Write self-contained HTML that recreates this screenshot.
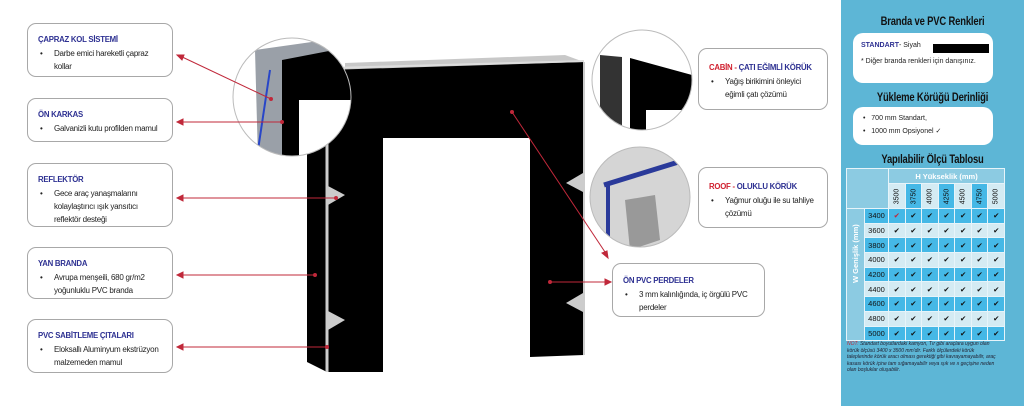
<!DOCTYPE html>
<html><head><meta charset="utf-8"><style>
*{margin:0;padding:0;box-sizing:border-box}
body{width:1024px;height:406px;overflow:hidden;background:#fff;position:relative;font-family:"Liberation Sans","DejaVu Sans",sans-serif}
.box{position:absolute;border:1px solid #a8a8a8;border-radius:9px;background:#fff;padding:9px 4px 0 10px;font-size:8px;letter-spacing:-0.25px;color:#222;line-height:13px;white-space:nowrap}
.box b{display:block;color:#2e3192;font-size:7.8px;margin-bottom:1px}
.box b .r{color:#d0202f}
.box .li{padding-left:16px;position:relative}
.box .li:before{content:"•";position:absolute;left:2px}
#panel{position:absolute;left:841px;top:0;width:183px;height:406px;background:#5db6d6}
.pt{position:absolute;left:0;width:183px;text-align:center;font-weight:bold;font-size:11.5px;color:#111;transform:scaleX(0.82);letter-spacing:-0.2px}
.wb{position:absolute;left:12px;width:140px;background:#fff;border-radius:10px;font-size:7px;color:#222}
table{position:absolute;left:5px;top:168px;border-collapse:collapse;font-size:7.5px}
td{border:1px solid #e6f4fa;text-align:center;padding:0;height:14.7px;width:15.2px;color:#111}
</style></head><body>
<svg width="841" height="406" style="position:absolute;left:0;top:0">
<polygon points="345,63 565,55 584,62 345,70" fill="#c8c8c8"/>
<polygon points="307,122 327,112 327,372 307,362" fill="#000"/>
<polygon points="327,70 584,62 584,355 530,357 530,138 383,138 383,372 327,372" fill="#000"/>
<line x1="327" y1="70" x2="327" y2="372" stroke="#ccc" stroke-width="3"/>
<line x1="584" y1="62" x2="584" y2="355" stroke="#ccc" stroke-width="2"/>
<line x1="330" y1="68" x2="584" y2="61" stroke="#ddd" stroke-width="2"/>
<polygon points="328,186 345,195 328,205" fill="#ccc"/>
<polygon points="328,311 345,320 328,330" fill="#ccc"/>
<polygon points="583,173 566,183 583,192" fill="#ccc"/>
<polygon points="583,293 566,303 583,312" fill="#ccc"/>
<clipPath id="c1"><circle cx="292" cy="97" r="59"/></clipPath>
<g clip-path="url(#c1)"><rect x="230" y="35" width="130" height="125" fill="#fff"/>
<polygon points="255,50 340,38 360,45 360,160 258,160" fill="#9aa0a8"/>
<polygon points="282,60 360,45 360,160 282,160" fill="#000"/>
<rect x="299" y="100" width="65" height="60" fill="#fff"/>
<line x1="270" y1="70" x2="258" y2="150" stroke="#2846c8" stroke-width="2"/></g>
<circle cx="292" cy="97" r="59" fill="none" stroke="#bbb"/>
<clipPath id="c2"><circle cx="642" cy="80" r="50"/></clipPath>
<g clip-path="url(#c2)"><rect x="590" y="30" width="105" height="105" fill="#fff"/>
<polygon points="600,55 622,57 622,130 600,130" fill="#333"/>
<polygon points="630,58 692,75 692,110 668,110 668,130 630,130" fill="#000"/>
<rect x="646" y="110" width="22" height="25" fill="#fff"/></g>
<circle cx="642" cy="80" r="50" fill="none" stroke="#bbb"/>
<clipPath id="c3"><circle cx="640" cy="197" r="50"/></clipPath>
<g clip-path="url(#c3)"><rect x="588" y="145" width="105" height="105" fill="#d5d5d5"/>
<polygon points="625,200 655,195 660,240 630,250" fill="#999"/>
<line x1="604" y1="185" x2="685" y2="160" stroke="#2a3a9a" stroke-width="5"/>
<line x1="608" y1="185" x2="608" y2="250" stroke="#2a3a9a" stroke-width="4"/></g>
<circle cx="640" cy="197" r="50" fill="none" stroke="#bbb"/>
<g stroke="#c0283a" stroke-width="1" fill="#c0283a">
<line x1="271" y1="99" x2="178" y2="55"/><circle cx="271" cy="99" r="1.5"/><polygon points="177,55 184,55 182,60"/>
<line x1="282" y1="122" x2="178" y2="122"/><circle cx="282" cy="122" r="1.5"/><polygon points="177,122 183,119 183,125"/>
<line x1="336" y1="198" x2="178" y2="198"/><circle cx="336" cy="198" r="1.5"/><polygon points="177,198 183,195 183,201"/>
<line x1="315" y1="275" x2="178" y2="275"/><circle cx="315" cy="275" r="1.5"/><polygon points="177,275 183,272 183,278"/>
<line x1="327" y1="347" x2="178" y2="347"/><circle cx="327" cy="347" r="1.5"/><polygon points="177,347 183,344 183,350"/>
<line x1="512" y1="112" x2="607" y2="255"/><circle cx="512" cy="112" r="1.5"/><polygon points="608,258 602,253 607,251"/>
<line x1="550" y1="282" x2="609" y2="282"/><circle cx="550" cy="282" r="1.5"/><polygon points="611,282 605,279 605,285"/>
</g></svg>

<div class="box" style="left:27px;top:23px;width:146px;height:54px"><b>ÇAPRAZ KOL SİSTEMİ</b><div class="li">Darbe emici hareketli çapraz<br>kollar</div></div>
<div class="box" style="left:27px;top:98px;width:146px;height:44px"><b>ÖN KARKAS</b><div class="li">Galvanizli kutu profilden mamul</div></div>
<div class="box" style="left:27px;top:163px;width:146px;height:64px"><b>REFLEKTÖR</b><div class="li">Gece araç yanaşmalarını<br>kolaylaştırıcı ışık yansıtıcı<br>reflektör desteği</div></div>
<div class="box" style="left:27px;top:247px;width:146px;height:52px"><b>YAN BRANDA</b><div class="li">Avrupa menşeili, 680 gr/m2<br>yoğunluklu PVC branda</div></div>
<div class="box" style="left:27px;top:319px;width:146px;height:54px"><b>PVC SABİTLEME ÇITALARI</b><div class="li">Eloksallı Aluminyum ekstrüzyon<br>malzemeden mamul</div></div>
<div class="box" style="left:698px;top:48px;width:130px;height:62px;padding-top:12px"><b><span class="r">CABİN -</span> ÇATI EĞİMLİ KÖRÜK</b><div class="li">Yağış birikimini önleyici<br>eğimli çatı çözümü</div></div>
<div class="box" style="left:698px;top:167px;width:130px;height:61px;padding-top:12px"><b><span class="r">ROOF -</span> OLUKLU KÖRÜK</b><div class="li">Yağmur oluğu ile su tahliye<br>çözümü</div></div>
<div class="box" style="left:612px;top:263px;width:153px;height:54px;padding-top:10px"><b>ÖN PVC PERDELER</b><div class="li">3 mm kalınlığında, iç örgülü PVC<br>perdeler</div></div>

<div id="panel">
<div class="pt" style="top:16px">Branda ve PVC Renkleri</div>
<div class="wb" style="top:33px;height:50px;padding:9px 0 0 8px"><span style="color:#2e3192;font-weight:bold">STANDART</span>- Siyah<div style="position:absolute;left:80px;top:11px;width:56px;height:9px;background:#000"></div><div style="margin-top:9px">* Diğer branda renkleri için danışınız.</div></div>
<div class="pt" style="top:92px">Yükleme Körüğü Derinliği</div>
<div class="wb" style="top:107px;height:38px;padding:5px 0 0 10px;line-height:13px">•&nbsp;&nbsp;&nbsp;700 mm Standart,<br>•&nbsp;&nbsp;&nbsp;1000 mm Opsiyonel ✓</div>
<div class="pt" style="top:154px">Yapılabilir Ölçü Tablosu</div>
<table id="t"></table>
<div style="position:absolute;left:6px;top:341px;width:150px;font-size:5px;line-height:6.5px;font-style:italic;color:#223"><span style="color:#c0283a">NOT:</span> Standart boyutlardaki kamyon, Tır gibi araçlara uygun olan körük ölçüsü 3400 x 3500 mm'dir. Farklı ölçülerdeki körük taleplerinde körük aracı olması gerektiği gibi kavrayamayabilir, araç kasası körük içine tam sığamayabilir veya ışık ve ıı geçişine neden olan boşluklar oluşabilir.</div>
</div>
<script>
var h=['3500','3750','4000','4250','4500','4750','5000'],w=['3400','3600','3800','4000','4200','4400','4600','4800','5000'];
var s='<tr><td colspan="2" rowspan="2" style="background:#8ccbe2;width:41px"></td><td colspan="7" style="background:#8ccbe2;color:#fff;font-weight:bold;height:15px">H Yükseklik (mm)</td></tr><tr>';
h.forEach(function(x,i){s+='<td style="height:25px;background:'+(i%2?'#45b8e6':'#d4ebf3')+'"><div style="transform:rotate(-90deg);font-size:7px">'+x+'</div></td>'});
s+='</tr>';
w.forEach(function(x,r){var bg=r%2?'#d4ebf3':'#45b8e6';s+='<tr>';if(r==0)s+='<td rowspan="9" style="width:17px;background:#8ccbe2;color:#fff;font-weight:bold"><div style="transform:rotate(-90deg);white-space:nowrap;width:17px;margin-left:0">W Genişlik (mm)</div></td>';
s+='<td style="width:24px;background:'+bg+'">'+x+'</td>';h.forEach(function(y,i){s+='<td style="background:'+bg+';color:'+(r==0&&i==0?'#c0283a':'#111')+'">✔</td>'});s+='</tr>'});
document.getElementById('t').innerHTML=s;
</script>
</body></html>
